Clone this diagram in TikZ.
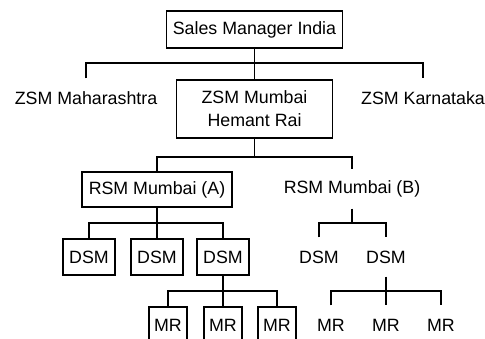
\documentclass[tikz,border=0pt]{standalone}
\usepackage{fontspec}
\setmainfont{Liberation Sans}
\usetikzlibrary{positioning}

\begin{document}
\begin{tikzpicture}[x=1pt,y=-1pt,line width=1.3pt,
        font=\fontsize{17.8pt}{23pt}\selectfont,
        box/.style={draw,inner sep=0pt,align=center},
        lbl/.style={inner sep=0pt,minimum height=38pt}]
        \useasboundingbox (0,0) rectangle (485,339);
        \clip (0,0) rectangle (485,339);
        % bus levels
        \coordinate (b1) at (0,63);
        \coordinate (b2) at (0,157);
        \coordinate (b3) at (0,223);
        \coordinate (b4) at (0,291);
        \node[box,minimum width=176pt,minimum height=37pt] (sm) at (254.5,29.5) {Sales Manager India};
        \node[box,minimum width=156pt,minimum height=58pt] (zmum) at (254.5,109) {ZSM Mumbai\\Hemant Rai};
        \node[lbl] (zmah) at (86,98) {ZSM Maharashtra};
        \node[lbl] (zkar) at (423,98) {ZSM Karnataka};
        \node[box,minimum width=150pt,minimum height=35pt] (rsma) at (157,189.5) {RSM Mumbai (A)};
        \node[lbl] (rsmb) at (352,189) {RSM Mumbai (B)};
        \node[box,minimum width=52pt,minimum height=36pt] (da1) at (89,257) {DSM};
        \node[box,minimum width=52pt,minimum height=36pt] (da2) at (157,257) {DSM};
        \node[box,minimum width=52pt,minimum height=36pt] (da3) at (223,257) {DSM};
        \node[lbl] (db1) at (319,257) {DSM};
        \node[lbl] (db2) at (386,257) {DSM};
        \node[box,minimum width=38pt,minimum height=36pt] (ma1) at (168,325) {MR};
        \node[box,minimum width=38pt,minimum height=36pt] (ma2) at (223,325) {MR};
        \node[box,minimum width=38pt,minimum height=36pt] (ma3) at (277,325) {MR};
        \node[lbl] (mb1) at (331,325) {MR};
        \node[lbl] (mb2) at (386,325) {MR};
        \node[lbl] (mb3) at (441,325) {MR};
        % connectors
        \draw (sm) -- (zmum);
        \draw (zmah.north) -- (zmah.north |- b1) -- (zkar.north |- b1) -- (zkar.north);
        \draw (zmum.south) -- (zmum.south |- b2);
        \draw (rsma.north) -- (rsma.north |- b2) -- (rsmb.north |- b2) -- (rsmb.north);
        \draw (rsma) -- (da2);
        \draw (da1.north) -- (da1.north |- b3) -- (da3.north |- b3) -- (da3.north);
        \draw (rsmb.south) -- (rsmb.south |- b3);
        \draw (db1.north) -- (db1.north |- b3) -- (db2.north |- b3) -- (db2.north);
        \draw (da3) -- (ma2);
        \draw (ma1.north) -- (ma1.north |- b4) -- (ma3.north |- b4) -- (ma3.north);
        \draw (db2) -- (mb2);
        \draw (mb1.north) -- (mb1.north |- b4) -- (mb3.north |- b4) -- (mb3.north);
    \end{tikzpicture}
\end{document}
